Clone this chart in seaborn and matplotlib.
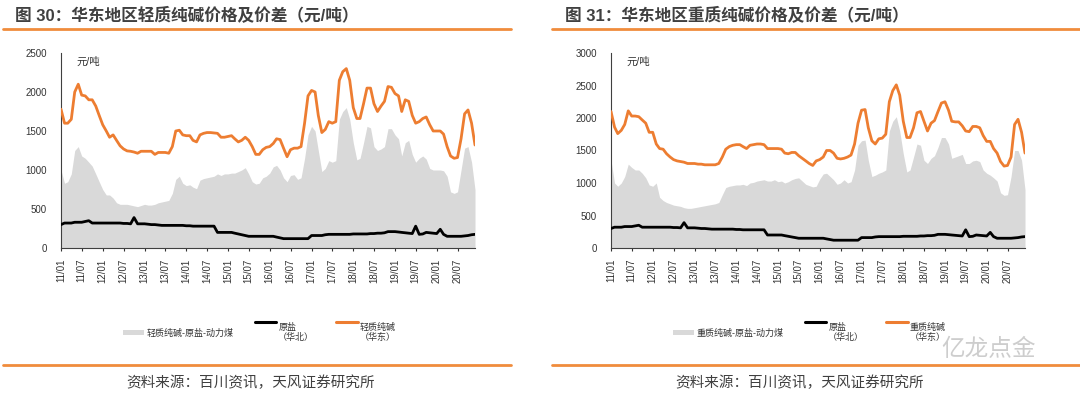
import numpy as np
import pandas as pd
import matplotlib
matplotlib.use("Agg")
import matplotlib.pyplot as plt
import matplotlib.dates as mdates
from matplotlib.patches import Patch
from matplotlib.lines import Line2D
import seaborn as sns

# -----------------------------
# Data (monthly, 2011/01 - 2020/12)
# -----------------------------
months = pd.date_range("2011-01-01", periods=120, freq="MS")

light_soda = [
    1780, 1600, 1600, 1650, 2000, 2100, 1960, 1950, 1900, 1900,
    1820, 1700, 1580, 1500, 1420, 1450, 1380, 1310, 1270, 1245,
    1240, 1230, 1215, 1240, 1240, 1240, 1240, 1200, 1225, 1225,
    1225, 1215, 1300, 1500, 1510, 1450, 1440, 1440, 1380, 1360,
    1450, 1470, 1480, 1480, 1475, 1470, 1420, 1420, 1430, 1440,
    1400, 1360, 1380, 1420, 1380, 1300, 1200, 1200, 1260, 1290,
    1300, 1340, 1400, 1390, 1280, 1170, 1260, 1280, 1280, 1300,
    1600, 1950, 2020, 2000, 1700, 1480, 1520, 1620, 1600, 1620,
    2150, 2260, 2300, 2150, 1800, 1660, 1660, 1850, 2050, 2050,
    1850, 1750, 1820, 1880, 2070, 2060, 1980, 1950, 1750, 1900,
    1880, 1700, 1600, 1620, 1660, 1680, 1580, 1500, 1500, 1500,
    1460, 1300, 1180, 1150, 1160, 1400, 1720, 1770, 1600, 1320,
]

light_spread = [
    1000, 830, 850, 950, 1250, 1300, 1180, 1150, 1100, 1050,
    950, 850, 750, 680, 680, 640, 580, 560, 560, 560,
    550, 540, 530, 545, 560, 550, 550, 560, 580, 590,
    600, 610, 700, 880, 920, 830, 800, 810, 780, 760,
    870, 890, 900, 910, 920, 950, 930, 950, 950, 960,
    960, 980, 1000, 1030, 950, 850, 820, 830, 900, 920,
    960, 1040, 1060, 1000, 900, 850, 930, 940, 880, 900,
    1150, 1450, 1560, 1500, 1250, 980, 1020, 1120, 1100, 1120,
    1650, 1750, 1800, 1650, 1350, 1130, 1150, 1350, 1560, 1540,
    1300, 1250, 1270, 1300, 1530, 1530, 1450, 1400, 1180, 1350,
    1380, 1200, 1100, 1150, 1180, 1140, 1020, 1000, 1000, 1000,
    990, 920, 720, 700, 720, 1000, 1280, 1300, 1100, 750,
]

heavy_soda = [
    2100, 1860, 1760, 1810, 1900, 2110, 2030, 2030, 2020, 1970,
    1920, 1780, 1780, 1600, 1530, 1520, 1450, 1400, 1360, 1340,
    1330, 1320, 1300, 1300, 1300, 1290, 1290, 1280, 1280, 1280,
    1280, 1300, 1400, 1520, 1560, 1580, 1590, 1590, 1560, 1530,
    1580, 1590, 1600, 1600, 1590, 1530, 1530, 1530, 1530, 1520,
    1460, 1450, 1470, 1470, 1420, 1380, 1340, 1300, 1270, 1340,
    1360, 1400, 1500, 1500, 1460, 1380, 1370, 1380, 1400, 1430,
    1600, 1920, 2120, 2130, 1850, 1650, 1600, 1680, 1690, 1750,
    2250, 2420, 2510, 2350, 1950, 1700, 1700, 1850, 2080, 2100,
    1950, 1800, 1920, 1960, 2100, 2230, 2250, 2120, 1950, 1940,
    1940, 1880, 1800, 1790, 1870, 1870, 1850, 1730, 1640, 1640,
    1530, 1460, 1330, 1260, 1270, 1400, 1900, 1980, 1780, 1460,
]

heavy_spread = [
    1350, 1000, 950, 1000, 1100, 1290, 1240, 1200, 1200, 1150,
    1080, 970, 950, 1000, 780, 730, 700, 680, 660, 650,
    640, 620, 610, 610, 620, 630, 640, 650, 660, 670,
    680, 700, 820, 930, 950, 960, 970, 970, 980, 960,
    1000, 1010, 1030, 1040, 1050, 1030, 1030, 1050, 1020, 1030,
    1000, 1020, 1050, 1070, 1080, 1030, 980, 960, 940, 950,
    1060, 1140, 1150, 1100, 1050, 980, 1000, 1050, 1000, 1020,
    1200, 1580, 1650, 1660, 1350, 1100, 1120, 1150, 1170, 1200,
    1800, 1950, 2020, 1800, 1450, 1170, 1200, 1400, 1600, 1580,
    1350, 1300, 1380, 1420, 1550, 1700, 1700, 1600, 1380, 1400,
    1420, 1440, 1300, 1300, 1340, 1350, 1330, 1200, 1150, 1120,
    1080, 1030, 850, 810, 820, 1100, 1500, 1500, 1350, 900,
]

salt = [
    300, 320, 320, 320, 330, 330, 330, 340, 350, 320,
    320, 320, 320, 320, 320, 320, 320, 320, 315, 315,
    310, 390, 310, 310, 310, 305, 300, 300, 295, 290,
    290, 290, 290, 290, 290, 290, 285, 285, 280, 280,
    280, 280, 280, 280, 280, 200, 200, 200, 200, 200,
    190, 180, 170, 160, 150, 150, 150, 150, 150, 150,
    150, 150, 140, 130, 120, 120, 120, 120, 120, 120,
    120, 120, 160, 160, 160, 160, 170, 175, 175, 175,
    175, 175, 175, 175, 180, 180, 180, 180, 180, 185,
    185, 190, 190, 195, 210, 210, 210, 205, 200, 195,
    190, 185, 280, 175, 180, 200, 195, 190, 185, 240,
    175, 150, 150, 150, 150, 150, 155, 160, 170, 175,
]

tick_dates = pd.date_range("2011-01-01", "2020-07-01", freq="6MS")

ORANGE = "#ED7D31"
GRAY = "#D9D9D9"
TEXT = "#333333"

# -----------------------------
# Style
# -----------------------------
sns.set_theme(style="white")
plt.rcParams["font.family"] = ["Liberation Sans", "Noto Sans CJK SC"]
plt.rcParams["axes.unicode_minus"] = False

fig = plt.figure(figsize=(10.8, 3.96), dpi=100)
W, H = 1080, 396


def fx(px):
    return px / W


def fy(py):
    return 1 - py / H


def draw_panel(left_px, ymax, spread, soda, spread_label, soda_label):
    ax = fig.add_axes([fx(left_px), fy(248), fx(414), (248 - 53) / H])
    df = pd.DataFrame({"date": months, "spread": spread, "soda": soda, "salt": salt})

    ax.fill_between(df["date"], 0, df["spread"], color=GRAY, linewidth=0, zorder=1)
    sns.lineplot(data=df, x="date", y="salt", color="black", linewidth=2.0, ax=ax, zorder=3)
    sns.lineplot(data=df, x="date", y="soda", color=ORANGE, linewidth=2.0, ax=ax, zorder=4)

    ax.set_xlim(months[0], months[-1])
    ax.set_ylim(0, ymax)
    ax.set_yticks(np.arange(0, ymax + 1, 500))
    ax.set_xticks(tick_dates)
    ax.xaxis.set_major_formatter(mdates.DateFormatter("%y/%m"))
    ax.set_xlabel("")
    ax.set_ylabel("")
    ax.tick_params(axis="x", labelrotation=90, labelsize=7, colors=TEXT,
                   length=2.5, width=0.8, direction="out", pad=5, bottom=True)
    ax.tick_params(axis="y", labelsize=7, colors=TEXT, length=0, pad=10)
    for side in ["top", "right"]:
        ax.spines[side].set_visible(False)
    for side in ["left", "bottom"]:
        ax.spines[side].set_color("#404040")
        ax.spines[side].set_linewidth(0.8)
    ax.grid(False)
    ax.text(0.037, 0.955, "元/吨", transform=ax.transAxes, fontsize=7.5,
            color=TEXT, va="center", ha="left")

    handles = [
        Patch(facecolor=GRAY, edgecolor="none"),
        Line2D([], [], color="black", linewidth=2.2),
        Line2D([], [], color=ORANGE, linewidth=2.2),
    ]
    labels = [spread_label, "原盐\n（华北）", soda_label + "\n（华东）"]
    leg = fig.legend(handles, labels, loc="upper center", ncol=3,
                     bbox_to_anchor=(fx(left_px + 198), fy(318)), frameon=False,
                     fontsize=6.5, handlelength=2.4, handleheight=0.5,
                     handletextpad=0.2, columnspacing=2.4, borderpad=0)
    for t in leg.get_texts():
        t.set_color(TEXT)
    return ax, leg


ax1, leg1 = draw_panel(61, 2500, light_spread, light_soda, "轻质纯碱-原盐-动力煤", "轻质纯碱")
ax2, leg2 = draw_panel(611, 3000, heavy_spread, heavy_soda, "重质纯碱-原盐-动力煤", "重质纯碱")

# titles, rules and source lines
fig.text(fx(15), fy(15), "图 30：华东地区轻质纯碱价格及价差（元/吨）", fontsize=12,
         fontweight="bold", color="#404040", va="center", ha="left")
fig.text(fx(565), fy(15), "图 31：华东地区重质纯碱价格及价差（元/吨）", fontsize=12,
         fontweight="bold", color="#404040", va="center", ha="left")
for x0, x1 in [(3, 511), (552, 1080)]:
    for yy in (29, 365):
        fig.add_artist(Line2D([fx(x0), fx(x1)], [fy(yy), fy(yy)], color="#F08C3C",
                              linewidth=2.0, transform=fig.transFigure))
fig.text(fx(251), fy(383), "资料来源：百川资讯，天风证券研究所", fontsize=10.5,
         color="#404040", va="center", ha="center")
fig.text(fx(800), fy(383), "资料来源：百川资讯，天风证券研究所", fontsize=10.5,
         color="#404040", va="center", ha="center")
fig.text(fx(1036), fy(350), "亿龙点金", fontsize=17, color="#C8C8C8",
         va="center", ha="right", alpha=0.9)

# lift line handles of two-line legend entries up to the first text line
fig.canvas.draw()
for leg in (leg1, leg2):
    for h, t in zip(leg.legend_handles, leg.get_texts()):
        if isinstance(h, Line2D) and "\n" in t.get_text():
            bb = t.get_window_extent()
            shift = bb.height * 0.545 * 72 / fig.dpi
            h.set_ydata(np.asarray(h.get_ydata()) + shift)

fig.savefig("out.png", dpi=100)
